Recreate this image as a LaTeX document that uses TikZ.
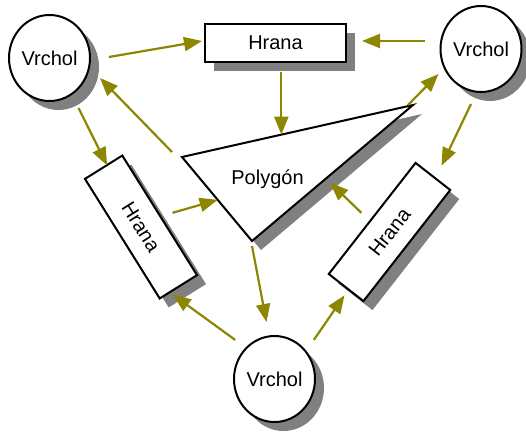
\documentclass[tikz,border=0pt]{standalone}
\usepackage{fontspec}
\setmainfont{Liberation Sans}
\usetikzlibrary{shapes.geometric,shadows,arrows.meta,calc}

\tikzset{
  stin/.style={drop shadow={shadow xshift=9pt, shadow yshift=-9pt, fill=gray, opacity=1}},
  vrchol/.style={ellipse, draw, line width=2pt, fill=white, minimum width=81pt, minimum height=86pt, inner sep=0pt, stin},
  hrana/.style={rectangle, draw, line width=2pt, fill=white, minimum width=141pt, minimum height=38pt, inner sep=0pt, stin},
  sipka/.style={draw=olive, line width=2.2pt, -{Triangle[length=18pt,width=14pt]}}
}

\begin{document}
\begin{tikzpicture}[x=1pt, y=-1pt, font=\fontsize{20}{24}\selectfont]
  \useasboundingbox (0,0) rectangle (526,434);
  % vrcholy a hrany
  \node[vrchol] (vl) at (49.5,58) {Vrchol};
  \node[vrchol] (vr) at (481,49) {Vrchol};
  \node[vrchol] (vb) at (274.5,379) {Vrchol};
  \node[hrana] (ht) at (275.5,43) {Hrana};
  \node[hrana, minimum height=44pt, rotate=-58] (hl) at (141,227) {Hrana};
  \node[hrana, minimum height=44pt, rotate=52] (hr) at (389.5,232) {Hrana};
  % polygon
  \coordinate (pa) at (182,157);
  \coordinate (pb) at (413,105);
  \coordinate (pc) at (252,241);
  \draw[line width=2pt, fill=white, stin] (pa) -- (pb) -- (pc) -- cycle;
  \node (poly) at (267.5,179) {Polygón};
  \coordinate (p3) at ($(pa)!0.43!(pb)$);
  \coordinate (p6) at ($(pa)!0.51!(pc)$);
  \coordinate (p9) at ($(pb)!0.52!(pc)$);
  % sipky
  \draw[sipka] ($(vl.east)+(18,-1)$) -- ($(ht.west)+(-2,-2)$);
  \draw[sipka] ($(vr.west)+(-15,-8)$) -- ($(ht.east)+(15,-2)$);
  \draw[sipka] ($(ht.south -| p3)+(0,9)$) -- (p3);
  \draw[sipka] ($(vl.south)+(29,6)$) -- ($(hl.west)+(4,-1)$);
  \draw[sipka] ($(pa)+(-10,-5)$) -- ($(vl.east)+(9,20)$);
  \draw[sipka] ($(hl.north)+(12,-2)$) -- (p6);
  \draw[sipka] ($(pb)+(-5,0)$) -- ($(vr.west)+(-1,25)$);
  \draw[sipka] ($(vr.south)+(-10,11)$) -- ($(hr.east)+(8,-10)$);
  \draw[sipka] ($(hr.north)+(-10,-5)$) -- ($(p9)+(1,7)$);
  \draw[sipka] ($(pc)+(0,5)$) -- ($(vb.north)+(-8,-13)$);
  \draw[sipka] ($(vb.north west)+(-10,-8)$) -- ($(hl.east)+(-6,7)$);
  \draw[sipka] ($(vb.north east)+(10,-8)$) -- ($(hr.west)+(-1,7)$);
\end{tikzpicture}
\end{document}
